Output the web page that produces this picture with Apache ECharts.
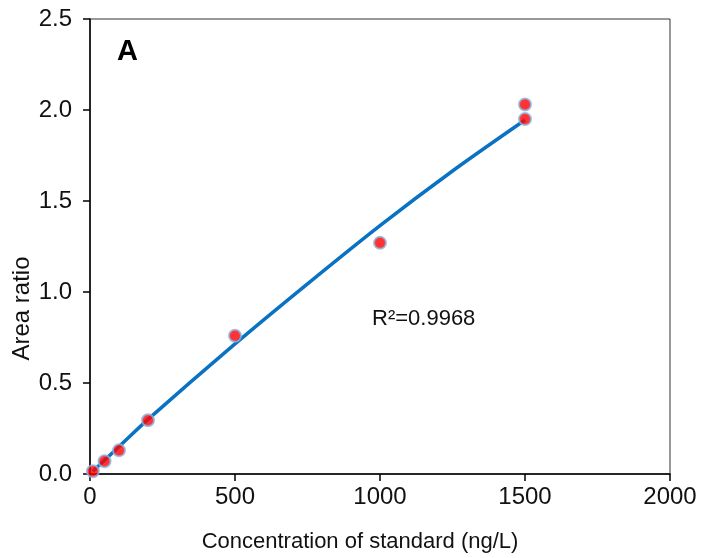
<!DOCTYPE html>
<html>
<head>
<meta charset="utf-8">
<script src="https://cdn.jsdelivr.net/npm/echarts@6/dist/echarts.min.js"></script>
<style>
  html, body { margin: 0; padding: 0; background: #fff; }
  #chart { width: 702px; height: 558px; }
</style>
</head>
<body>
<div id="chart"></div>
<script>
// measured standards
const concentration = [10, 50, 100, 200, 500, 1000, 1500, 1500];
const areaRatio = [0.015, 0.07, 0.13, 0.295, 0.76, 1.27, 2.03, 1.95];

// calibration curve
const fitX = [10, 50, 100, 200, 500, 750, 1000, 1250, 1500];
const fitY = [0.015, 0.075, 0.15, 0.30, 0.715, 1.045, 1.365, 1.665, 1.945];

const xTicks = [0, 500, 1000, 1500, 2000];
const yTicks = [0, 0.5, 1.0, 1.5, 2.0, 2.5];

const fontFam = 'Liberation Sans, Arial, sans-serif';

const chart = echarts.init(document.getElementById('chart'));

chart.setOption({
  animation: false,
  grid: {
    left: 90, right: 32, top: 19, bottom: 84,
    containLabel: false,
    outerBoundsMode: 'none',
    show: true,
    borderColor: '#333',
    borderWidth: 1
  },
  xAxis: {
    type: 'value',
    min: xTicks[0],
    max: xTicks[xTicks.length - 1],
    interval: 500,
    name: 'Concentration of standard (ng/L)',
    nameLocation: 'middle',
    nameGap: 57,
    nameMoveOverlap: false,
    nameTextStyle: { fontFamily: fontFam, fontSize: 22, color: '#111', padding: [0, 40, 0, 0] },
    axisLine: { lineStyle: { color: '#000', width: 1.5 } },
    axisTick: { length: 7, lineStyle: { color: '#000', width: 1.5 } },
    axisLabel: {
      fontFamily: fontFam, fontSize: 24, color: '#111', margin: 11,
      formatter: v => String(v)
    },
    splitLine: { show: false }
  },
  yAxis: {
    type: 'value',
    min: yTicks[0],
    max: yTicks[yTicks.length - 1],
    interval: 0.5,
    name: 'Area ratio',
    nameLocation: 'middle',
    nameGap: 56,
    nameMoveOverlap: false,
    nameTextStyle: { fontFamily: fontFam, fontSize: 24, color: '#111', padding: [0, 124, 0, 0] },
    axisLine: { lineStyle: { color: '#000', width: 1.5 } },
    axisTick: { length: 7, lineStyle: { color: '#000', width: 1.5 } },
    axisLabel: {
      fontFamily: fontFam, fontSize: 24, color: '#111', margin: 18,
      formatter: v => v.toFixed(1)
    },
    splitLine: { show: false }
  },
  graphic: [
    {
      type: 'text', left: 117, top: 37,
      style: { text: 'A', font: 'bold 29px ' + fontFam, fill: '#000' }
    },
    {
      type: 'text', left: 372, top: 308,
      style: { text: 'R²=0.9968', font: '22px ' + fontFam, fill: '#111' }
    }
  ],
  series: [
    {
      name: 'fit',
      type: 'line',
      data: fitX.map((x, i) => [x, fitY[i]]),
      smooth: 0.3,
      showSymbol: false,
      lineStyle: { color: '#0a72c2', width: 3.5 },
      z: 2
    },
    {
      name: 'standards',
      type: 'scatter',
      data: concentration.map((x, i) => [x, areaRatio[i]]),
      symbolSize: 12,
      itemStyle: { color: '#ff0000', borderColor: '#8cb3e0', borderWidth: 2 },
      z: 3
    }
  ]
});
</script>
</body>
</html>
